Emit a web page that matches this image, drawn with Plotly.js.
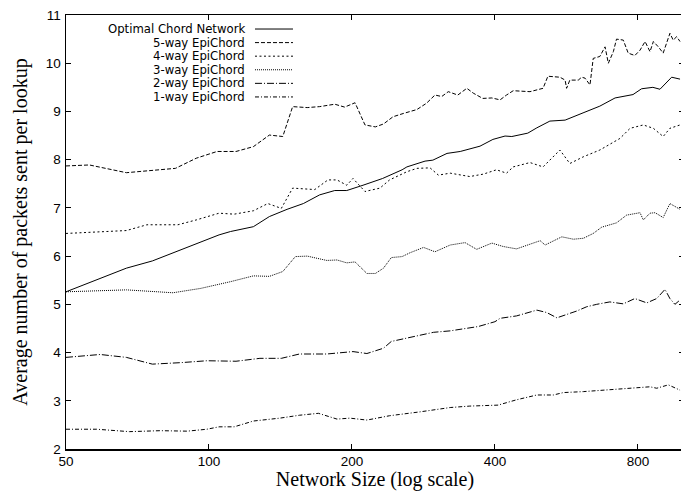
<!DOCTYPE html>
<html>
<head>
<meta charset="utf-8">
<script src="https://cdn.plot.ly/plotly-3.0.1.min.js"></script>
<style>
html, body { margin: 0; padding: 0; overflow: hidden; background: #fff; }
#chart { width: 685px; height: 491px; }
</style>
</head>
<body>
<div id="chart"></div>
<script>
// ---- data (network size, avg packets per lookup) ----
const seriesNames = ["Optimal Chord Network", "5-way EpiChord", "4-way EpiChord", "3-way EpiChord", "2-way EpiChord", "1-way EpiChord"];

const optX = [50,67,76,90,105,111,124,134,146,158,171,184,195,211,232,255,261,285,296,317,338,372,396,420,434,469,490,522,562,613,665,716,781,814,860,890,942,981];
const optY = [5.26,5.75,5.90,6.19,6.44,6.51,6.61,6.82,6.97,7.09,7.27,7.36,7.36,7.47,7.61,7.79,7.85,7.97,7.99,8.13,8.17,8.28,8.42,8.49,8.48,8.55,8.66,8.80,8.82,8.97,9.11,9.28,9.35,9.47,9.50,9.46,9.71,9.67];

const way5X = [50,56,67,85,94,104,114,124,134,143,150,161,171,184,193,203,213,224,233,244,257,274,287,299,309,319,334,349,360,377,394,410,423,437,474,505,517,548,562,566,575,599,609,619,634,644,665,682,693,710,721,745,763,788,808,828,848,862,883,904,934,949,965,981];
const way5Y = [7.87,7.89,7.73,7.82,8.03,8.17,8.17,8.27,8.51,8.48,9.10,9.08,9.10,9.15,9.09,9.18,8.72,8.68,8.74,8.89,8.96,9.04,9.17,9.34,9.31,9.41,9.34,9.48,9.38,9.27,9.28,9.24,9.34,9.43,9.41,9.48,9.73,9.71,9.65,9.48,9.65,9.65,9.71,9.69,9.55,10.10,10.14,10.34,10.00,10.24,10.50,10.48,10.21,10.16,10.27,10.45,10.24,10.45,10.34,10.21,10.62,10.48,10.55,10.45];

const way4X = [50,67,74,86,94,105,113,124,133,142,150,167,178,186,195,201,213,229,240,261,274,292,304,322,354,378,403,423,437,474,505,548,575,614,665,733,770,821,862,904,934,981];
const way4Y = [6.47,6.53,6.65,6.65,6.75,6.89,6.87,6.94,7.09,6.99,7.41,7.38,7.58,7.58,7.47,7.61,7.34,7.41,7.58,7.75,7.82,7.83,7.68,7.72,7.65,7.70,7.79,7.72,7.85,7.94,7.85,8.20,7.92,8.06,8.20,8.44,8.65,8.72,8.65,8.48,8.65,8.72];

const way3X = [50,67,84,96,111,124,134,143,152,161,177,186,195,203,215,224,233,242,255,265,283,299,322,346,366,394,416,444,498,510,553,585,614,644,671,721,757,808,821,848,869,904,934,981];
const way3Y = [5.26,5.30,5.24,5.33,5.47,5.59,5.58,5.68,5.99,6.00,5.91,5.92,5.86,5.88,5.64,5.64,5.75,5.97,5.99,6.07,6.18,6.09,6.23,6.28,6.14,6.27,6.20,6.15,6.32,6.23,6.40,6.35,6.37,6.47,6.60,6.69,6.85,6.90,6.75,6.89,6.90,6.80,7.09,6.97];

const way2X = [50,59,67,76,87,99,114,128,142,155,177,201,215,233,242,261,278,297,322,349,369,400,410,444,470,490,514,540,594,624,655,698,745,788,835,876,912,934,957,981];
const way2Y = [3.90,3.96,3.90,3.76,3.79,3.83,3.82,3.88,3.88,3.97,3.97,4.02,3.98,4.09,4.23,4.30,4.36,4.42,4.45,4.50,4.54,4.64,4.71,4.76,4.83,4.88,4.83,4.72,4.86,4.95,5.00,5.05,5.01,5.12,5.03,5.12,5.31,5.12,5.00,5.09];

const way1X = [50,58,68,79,90,99,105,113,124,141,155,170,186,198,215,240,278,322,354,406,444,490,531,557,614,687,757,848,876,927,981];
const way1Y = [2.41,2.41,2.36,2.38,2.37,2.41,2.46,2.46,2.58,2.64,2.70,2.74,2.62,2.64,2.60,2.69,2.77,2.86,2.89,2.91,3.02,3.12,3.12,3.17,3.19,3.22,3.26,3.29,3.26,3.33,3.22];

const xTickVals = [50, 100, 200, 400, 800];
const xTickText = ["50", "100", "200", "400", "800"];
const yTickVals = [2, 3, 4, 5, 6, 7, 8, 9, 10, 11];

// ---- styling ----
const dashes = ["solid", "4px,2px", "2px,2.5px", "1px,1px", "7px,2px,1px,2px", "4px,2px,1px,2px"];
const xs = [optX, way5X, way4X, way3X, way2X, way1X];
const ys = [optY, way5Y, way4Y, way3Y, way2Y, way1Y];

const sans = "'Liberation Sans', Arial, Helvetica, sans-serif";
const keyFont = "'DejaVu Sans', 'Liberation Sans', Arial, sans-serif";
const serif = "'Liberation Serif', 'Times New Roman', Times, serif";

const traces = seriesNames.map((name, i) => ({
  type: "scatter",
  mode: "lines",
  name: name,
  x: xs[i],
  y: ys[i],
  showlegend: false,
  line: { color: "#000", width: 1, dash: dashes[i] }
}));

// gnuplot-style key: label right-aligned, sample to its right
const keyTextRight = 0.2913;
const keySampleX0 = 0.3058, keySampleX1 = 0.3673;
const keyTop = 0.9677, keyStep = 0.0313;
const annotations = [], shapes = [];
seriesNames.forEach((name, i) => {
  const yy = keyTop - i * keyStep;
  annotations.push({
    xref: "paper", yref: "paper", x: keyTextRight, y: yy,
    xanchor: "right", yanchor: "middle", showarrow: false,
    borderpad: 0,
    text: name, font: { family: keyFont, size: 11.7, color: "#000" }
  });
  shapes.push({
    type: "line", xref: "paper", yref: "paper",
    x0: keySampleX0, x1: keySampleX1, y0: yy, y1: yy,
    line: { color: "#000", width: 1, dash: dashes[i] }
  });
});

const layout = {
  width: 685, height: 491,
  margin: { l: 66, r: 1, t: 15, b: 42 },
  paper_bgcolor: "#fff", plot_bgcolor: "#fff",
  showlegend: false,
  xaxis: {
    type: "log",
    range: [Math.log10(50), Math.log10(1000)],
    tickmode: "array", tickvals: xTickVals, ticktext: xTickText,
    ticks: "inside", ticklen: 5, tickwidth: 1, tickcolor: "#000",
    ticklabelstandoff: -1,
    mirror: "allticks", showline: true, linecolor: "#000", linewidth: 1.5,
    showgrid: false, zeroline: false,
    tickfont: { family: sans, size: 13.5, color: "#000" },
    title: { text: "Network Size (log scale)", font: { family: serif, size: 20, color: "#000" }, standoff: 4 }
  },
  yaxis: {
    range: [2, 11],
    tickmode: "array", tickvals: yTickVals,
    ticks: "inside", ticklen: 5, tickwidth: 1, tickcolor: "#000",
    ticklabelstandoff: 1,
    mirror: "allticks", showline: true, linecolor: "#000", linewidth: 1.5,
    showgrid: false, zeroline: false,
    tickfont: { family: sans, size: 13.5, color: "#000" },
    title: { text: "Average number of packets sent per lookup", font: { family: serif, size: 20, color: "#000" }, standoff: 13 }
  },
  annotations: annotations,
  shapes: shapes
};

Plotly.newPlot("chart", traces, layout, { staticPlot: true, displayModeBar: false });
</script>
</body>
</html>
